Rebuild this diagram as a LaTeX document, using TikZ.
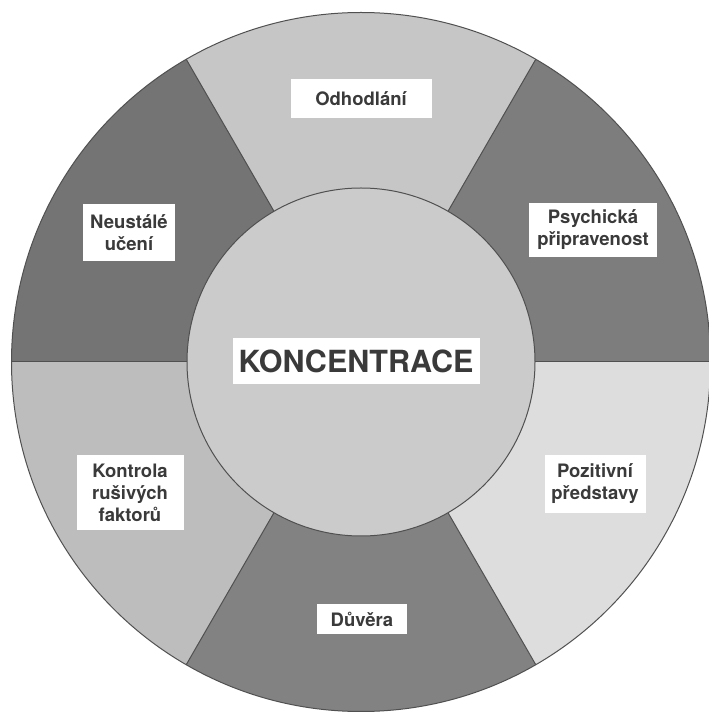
\documentclass[tikz,border=0pt]{standalone}
\usepackage{fontspec}
\setmainfont{TeX Gyre Heros}
\definecolor{lighttop}{HTML}{C6C6C6}
\definecolor{darkul}{HTML}{747474}
\definecolor{darkur}{HTML}{7D7D7D}
\definecolor{darkbot}{HTML}{828282}
\definecolor{lightll}{HTML}{BDBDBD}
\definecolor{lightlr}{HTML}{DDDDDD}
\definecolor{innerc}{HTML}{CBCBCB}
\definecolor{edgec}{HTML}{505050}
\definecolor{textc}{HTML}{3A3A3A}
\begin{document}
\begin{tikzpicture}[x=1pt,y=1pt,
  sector/.style={draw=edgec,line width=1pt,line join=round},
  labelbox/.style={fill=white,inner sep=0pt,align=center,text=textc,
    font=\fontsize{18.5}{22}\selectfont\bfseries}]
\useasboundingbox (0,0) rectangle (709,713);
\coordinate (c) at (361,351);
\def\R{349.5}
% sectors
\fill[lighttop] (c) -- ++(60:\R) arc[start angle=60,end angle=120,radius=\R] -- cycle;
\fill[darkul] (c) -- ++(120:\R) arc[start angle=120,end angle=180,radius=\R] -- cycle;
\fill[lightll] (c) -- ++(180:\R) arc[start angle=180,end angle=240,radius=\R] -- cycle;
\fill[darkbot] (c) -- ++(240:\R) arc[start angle=240,end angle=300,radius=\R] -- cycle;
\fill[lightlr] (c) -- ++(300:\R) arc[start angle=300,end angle=360,radius=\R] -- cycle;
\fill[darkur] (c) -- ++(0:\R) arc[start angle=0,end angle=60,radius=\R] -- cycle;
\foreach \a in {0,60,...,300} \draw[sector] (c) -- ++(\a:\R);
\draw[sector] (c) circle[radius=\R];
% inner circle
\node[circle,fill=innerc,draw=edgec,line width=1pt,minimum size=348pt,inner sep=0pt] (inner) at (c) {};
% labels
\node[labelbox,minimum width=247pt,minimum height=46pt,font=\fontsize{30.5}{32}\selectfont\bfseries] (konc) at (356,352) {KONCENTRACE};
\node[labelbox,minimum width=141pt,minimum height=39pt] (odh) at (361,614) {Odhodlání};
\node[labelbox,minimum width=92pt,minimum height=57pt] (neu) at (129,480) {Neustálé\\učení};
\node[labelbox,minimum width=128pt,minimum height=54pt] (psy) at (593,483) {Psychická\\připravenost};
\node[labelbox,minimum width=107pt,minimum height=75pt] (kon) at (130,220) {Kontrola\\rušivých\\faktorů};
\node[labelbox,minimum width=101pt,minimum height=58pt] (poz) at (595,229) {Pozitivní\\představy};
\node[labelbox,minimum width=90pt,minimum height=30pt] (duv) at (362,94) {Důvěra};
\end{tikzpicture}
\end{document}
